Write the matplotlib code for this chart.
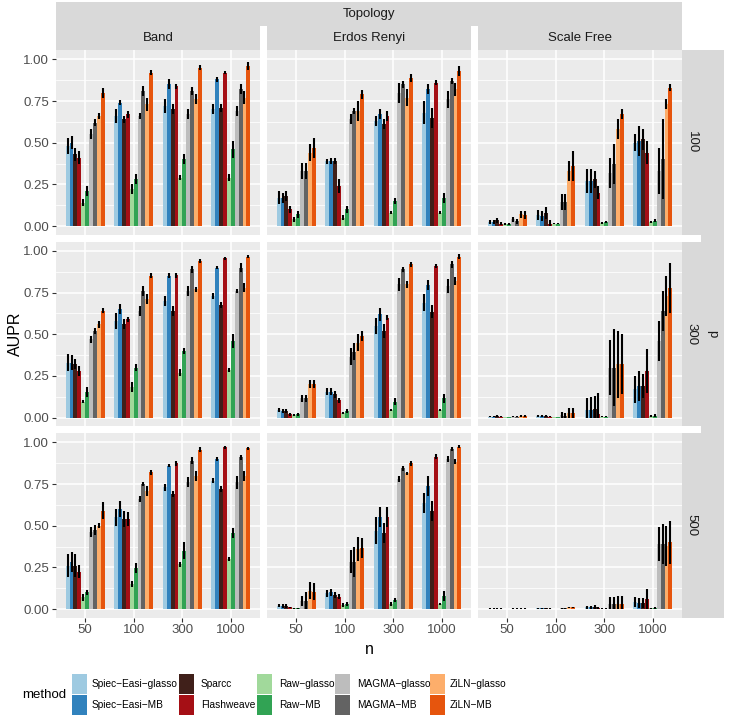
import numpy as np
import matplotlib
matplotlib.use('Agg')
import matplotlib.pyplot as plt
from matplotlib.patches import Rectangle

plt.rcParams['font.family'] = ['Liberation Sans', 'DejaVu Sans']

methods = ['Spiec-Easi-glasso', 'Spiec-Easi-MB', 'Sparcc', 'Flashweave',
           'Raw-glasso', 'Raw-MB', 'MAGMA-glasso', 'MAGMA-MB',
           'ZiLN-glasso', 'ZiLN-MB']
colors = ['#9ECAE1', '#3182BD', '#40201A', '#A50F15', '#A1D99B',
          '#31A354', '#BDBDBD', '#636363', '#FDAE6B', '#E6550D']
n_labels = ['50', '100', '300', '1000']
topologies = ['Band', 'Erdos Renyi', 'Scale Free']
p_values = ['100', '300', '500']

# mean AUPR, rows = n (50, 100, 300, 1000), columns = methods
band_100 = [[0.48, 0.50, 0.43, 0.41, 0.14, 0.21, 0.55, 0.62, 0.66, 0.80],
            [0.66, 0.74, 0.64, 0.67, 0.22, 0.28, 0.66, 0.81, 0.73, 0.92],
            [0.72, 0.85, 0.70, 0.84, 0.29, 0.40, 0.67, 0.81, 0.76, 0.95],
            [0.70, 0.88, 0.71, 0.92, 0.29, 0.46, 0.69, 0.82, 0.77, 0.96]]
band_100_sd = [[0.05, 0.04, 0.04, 0.04, 0.02, 0.03, 0.03, 0.02, 0.02, 0.03],
               [0.04, 0.015, 0.02, 0.02, 0.03, 0.03, 0.02, 0.03, 0.04, 0.015],
               [0.04, 0.03, 0.03, 0.015, 0.015, 0.03, 0.03, 0.025, 0.03, 0.015],
               [0.03, 0.015, 0.025, 0.01, 0.02, 0.05, 0.03, 0.03, 0.04, 0.025]]
er_100 = [[0.17, 0.17, 0.18, 0.10, 0.04, 0.07, 0.33, 0.33, 0.44, 0.47],
          [0.39, 0.39, 0.39, 0.24, 0.05, 0.10, 0.64, 0.69, 0.69, 0.79],
          [0.63, 0.67, 0.61, 0.66, 0.08, 0.15, 0.80, 0.85, 0.77, 0.89],
          [0.68, 0.82, 0.65, 0.86, 0.08, 0.17, 0.76, 0.87, 0.82, 0.93]]
er_100_sd = [[0.04, 0.03, 0.03, 0.02, 0.015, 0.02, 0.05, 0.05, 0.05, 0.06],
             [0.015, 0.02, 0.02, 0.04, 0.015, 0.02, 0.03, 0.02, 0.06, 0.025],
             [0.03, 0.03, 0.03, 0.03, 0.01, 0.02, 0.06, 0.02, 0.05, 0.025],
             [0.07, 0.03, 0.06, 0.015, 0.01, 0.03, 0.05, 0.02, 0.04, 0.03]]
sf_100 = [[0.025, 0.025, 0.035, 0.015, 0.012, 0.012, 0.04, 0.03, 0.07, 0.065],
          [0.065, 0.06, 0.08, 0.015, 0.015, 0.015, 0.145, 0.145, 0.33, 0.36],
          [0.27, 0.27, 0.28, 0.20, 0.02, 0.024, 0.32, 0.37, 0.58, 0.67],
          [0.50, 0.51, 0.52, 0.44, 0.024, 0.032, 0.33, 0.40, 0.73, 0.83]]
sf_100_sd = [[0.01, 0.01, 0.015, 0.008, 0.005, 0.005, 0.015, 0.015, 0.02, 0.025],
             [0.03, 0.03, 0.035, 0.02, 0.005, 0.005, 0.05, 0.05, 0.06, 0.09],
             [0.07, 0.07, 0.05, 0.04, 0.005, 0.005, 0.09, 0.12, 0.06, 0.03],
             [0.05, 0.09, 0.065, 0.07, 0.005, 0.008, 0.14, 0.24, 0.03, 0.02]]

band_300 = [[0.33, 0.33, 0.32, 0.28, 0.095, 0.155, 0.47, 0.52, 0.56, 0.64],
            [0.58, 0.65, 0.56, 0.59, 0.185, 0.30, 0.64, 0.76, 0.71, 0.85],
            [0.70, 0.85, 0.64, 0.855, 0.27, 0.40, 0.76, 0.89, 0.77, 0.94],
            [0.73, 0.90, 0.675, 0.955, 0.285, 0.46, 0.76, 0.90, 0.78, 0.965]]
band_300_sd = [[0.05, 0.045, 0.03, 0.03, 0.01, 0.03, 0.02, 0.02, 0.02, 0.015],
               [0.05, 0.03, 0.03, 0.015, 0.03, 0.02, 0.03, 0.03, 0.03, 0.015],
               [0.03, 0.015, 0.03, 0.015, 0.02, 0.02, 0.03, 0.02, 0.015, 0.01],
               [0.02, 0.01, 0.02, 0.01, 0.01, 0.04, 0.01, 0.025, 0.025, 0.01]]
er_300 = [[0.045, 0.04, 0.04, 0.02, 0.015, 0.02, 0.115, 0.115, 0.20, 0.20],
          [0.155, 0.155, 0.14, 0.105, 0.03, 0.04, 0.365, 0.395, 0.45, 0.49],
          [0.55, 0.62, 0.52, 0.60, 0.045, 0.095, 0.80, 0.89, 0.80, 0.92],
          [0.69, 0.795, 0.635, 0.91, 0.045, 0.115, 0.79, 0.92, 0.82, 0.965]]
er_300_sd = [[0.01, 0.01, 0.012, 0.01, 0.005, 0.008, 0.02, 0.02, 0.025, 0.025],
             [0.02, 0.02, 0.02, 0.015, 0.006, 0.01, 0.05, 0.05, 0.05, 0.03],
             [0.05, 0.04, 0.04, 0.015, 0.008, 0.02, 0.04, 0.015, 0.02, 0.015],
             [0.05, 0.03, 0.04, 0.01, 0.006, 0.025, 0.04, 0.02, 0.025, 0.015]]
sf_300 = [[0.005, 0.006, 0.008, 0.004, 0.003, 0.003, 0.006, 0.005, 0.01, 0.008],
          [0.008, 0.008, 0.01, 0.005, 0.003, 0.003, 0.015, 0.012, 0.03, 0.03],
          [0.045, 0.045, 0.05, 0.02, 0.005, 0.005, 0.30, 0.30, 0.32, 0.32],
          [0.17, 0.19, 0.19, 0.28, 0.01, 0.012, 0.46, 0.64, 0.73, 0.775]]
sf_300_sd = [[0.004, 0.004, 0.005, 0.003, 0.002, 0.002, 0.004, 0.004, 0.006, 0.006],
             [0.005, 0.005, 0.006, 0.004, 0.002, 0.002, 0.02, 0.015, 0.03, 0.03],
             [0.075, 0.08, 0.08, 0.13, 0.004, 0.004, 0.165, 0.23, 0.2, 0.18],
             [0.08, 0.09, 0.07, 0.13, 0.006, 0.01, 0.12, 0.12, 0.12, 0.15]]

band_500 = [[0.26, 0.28, 0.26, 0.225, 0.07, 0.10, 0.46, 0.475, 0.50, 0.59],
            [0.55, 0.60, 0.54, 0.54, 0.15, 0.245, 0.66, 0.75, 0.71, 0.82],
            [0.73, 0.86, 0.69, 0.875, 0.27, 0.35, 0.76, 0.89, 0.80, 0.955],
            [0.77, 0.90, 0.72, 0.97, 0.30, 0.455, 0.76, 0.91, 0.80, 0.965]]
band_500_sd = [[0.07, 0.06, 0.07, 0.04, 0.02, 0.015, 0.03, 0.03, 0.015, 0.05],
               [0.05, 0.05, 0.05, 0.04, 0.02, 0.03, 0.02, 0.01, 0.03, 0.015],
               [0.02, 0.01, 0.02, 0.015, 0.015, 0.05, 0.03, 0.02, 0.03, 0.015],
               [0.015, 0.01, 0.02, 0.01, 0.01, 0.03, 0.04, 0.015, 0.03, 0.01]]
er_500 = [[0.02, 0.018, 0.018, 0.01, 0.006, 0.006, 0.05, 0.05, 0.11, 0.105],
          [0.095, 0.10, 0.085, 0.075, 0.024, 0.03, 0.285, 0.285, 0.36, 0.365],
          [0.47, 0.55, 0.455, 0.555, 0.03, 0.055, 0.78, 0.845, 0.815, 0.875],
          [0.635, 0.74, 0.59, 0.915, 0.03, 0.08, 0.90, 0.96, 0.885, 0.975]]
er_500_sd = [[0.01, 0.01, 0.01, 0.005, 0.003, 0.003, 0.03, 0.05, 0.05, 0.05],
             [0.02, 0.02, 0.02, 0.015, 0.01, 0.01, 0.07, 0.09, 0.07, 0.06],
             [0.08, 0.06, 0.06, 0.06, 0.01, 0.01, 0.02, 0.015, 0.01, 0.015],
             [0.06, 0.06, 0.06, 0.015, 0.008, 0.03, 0.02, 0.01, 0.015, 0.008]]
sf_500 = [[0.003, 0.003, 0.003, 0.002, 0.002, 0.002, 0.003, 0.003, 0.003, 0.003],
          [0.005, 0.005, 0.005, 0.003, 0.002, 0.002, 0.005, 0.005, 0.01, 0.01],
          [0.01, 0.01, 0.012, 0.005, 0.003, 0.003, 0.03, 0.03, 0.03, 0.03],
          [0.045, 0.035, 0.035, 0.06, 0.005, 0.006, 0.39, 0.39, 0.38, 0.40]]
sf_500_sd = [[0.002, 0.002, 0.002, 0.002, 0.001, 0.001, 0.002, 0.002, 0.002, 0.002],
             [0.003, 0.003, 0.003, 0.002, 0.001, 0.001, 0.003, 0.003, 0.005, 0.005],
             [0.008, 0.01, 0.012, 0.005, 0.002, 0.002, 0.04, 0.04, 0.05, 0.05],
             [0.03, 0.03, 0.03, 0.06, 0.003, 0.004, 0.1, 0.12, 0.12, 0.13]]

means = [[band_100, band_300, band_500],
         [er_100, er_300, er_500],
         [sf_100, sf_300, sf_500]]
sds = [[band_100_sd, band_300_sd, band_500_sd],
       [er_100_sd, er_300_sd, er_500_sd],
       [sf_100_sd, sf_300_sd, sf_500_sd]]

W, H = 733, 726
fig = plt.figure(figsize=(W / 100, H / 100), dpi=100)

col_x = [56, 267, 478]
row_y = [50, 241.5, 433]
pw, ph = 204, 184.5
strip_col = '#D9D9D9'
txt_col = '#1A1A1A'
tick_col = '#4D4D4D'


def frac(x, y, w, h):
    return [x / W, 1 - (y + h) / H, w / W, h / H]


# overlay in pixel coords for strips, titles and legend
over = fig.add_axes([0, 0, 1, 1])
over.set_xlim(0, W)
over.set_ylim(H, 0)
over.axis('off')

over.add_patch(Rectangle((56, 2), 626, 24, color=strip_col, lw=0))
over.text(369, 14, 'Topology', ha='center', va='center', fontsize=9.5, color=txt_col)
for i, topo in enumerate(topologies):
    over.add_patch(Rectangle((col_x[i], 26), pw, 24, color=strip_col, lw=0))
    over.text(col_x[i] + pw / 2, 38, topo, ha='center', va='center',
              fontsize=9.5, color=txt_col)
for j, p in enumerate(p_values):
    over.add_patch(Rectangle((682, row_y[j]), 19, ph, color=strip_col, lw=0))
    over.text(691.5, row_y[j] + ph / 2, p, ha='center', va='center',
              rotation=-90, fontsize=9.5, color=txt_col)
over.add_patch(Rectangle((701, 50), 23, 567.5, color=strip_col, lw=0))
over.text(712.5, 333.75, 'p', ha='center', va='center', rotation=-90,
          fontsize=9.5, color=txt_col)

over.text(15, 333.75, 'AUPR', ha='center', va='center', rotation=90, fontsize=11.5)
over.text(369, 650, 'n', ha='center', va='center', fontsize=11.5)

# legend
key_x = [72, 179, 256.5, 335, 430]
lab_x = [92, 201, 279, 357, 450]
key_y = [674, 695]
for k, (m, c) in enumerate(zip(methods, colors)):
    ci, ri = k // 2, k % 2
    over.add_patch(Rectangle((key_x[ci], key_y[ri]), 15, 19.5, color=c, lw=0))
    over.text(lab_x[ci], key_y[ri] + 10, m.replace('-', '\u2212'),
              ha='left', va='center', fontsize=7.3)
over.text(22, 695, 'method', ha='left', va='center', fontsize=9.5)

x = np.arange(1, 5)
bw = 0.08
for i in range(3):
    for j in range(3):
        ax = fig.add_axes(frac(col_x[i], row_y[j], pw, ph))
        ax.set_facecolor('#EBEBEB')
        m = np.array(means[i][j])
        s = np.array(sds[i][j])
        for k in range(10):
            xs = x + (k - 4.5) * bw
            ax.bar(xs, m[:, k], width=bw, color=colors[k], lw=0, zorder=2)
        for k in range(10):
            xs = x + (k - 4.5) * bw
            ax.vlines(xs, np.clip(m[:, k] - s[:, k], 0, None), m[:, k] + s[:, k],
                      color='black', lw=1.5, zorder=3)
        ax.set_xlim(0.4, 4.6)
        ax.set_ylim(-0.0504, 1.057)
        ax.set_xticks(x)
        ax.set_yticks([0, 0.25, 0.5, 0.75, 1.0])
        ax.set_yticks([0.125, 0.375, 0.625, 0.875], minor=True)
        ax.set_axisbelow(True)
        ax.grid(which='major', color='white', lw=1.1)
        ax.grid(which='minor', axis='y', color='white', lw=0.55)
        for sp in ax.spines.values():
            sp.set_visible(False)
        ax.tick_params(which='minor', length=0)
        ax.tick_params(which='major', length=3, width=0.8, color='#333333',
                       labelsize=9.5, labelcolor=tick_col, pad=2)
        if i == 0:
            ax.set_yticklabels(['0.00', '0.25', '0.50', '0.75', '1.00'])
        else:
            ax.tick_params(axis='y', length=0, labelleft=False)
        if j == 2:
            ax.set_xticklabels(n_labels)
        else:
            ax.tick_params(axis='x', length=0, labelbottom=False)

fig.savefig('out.png', dpi=100)
